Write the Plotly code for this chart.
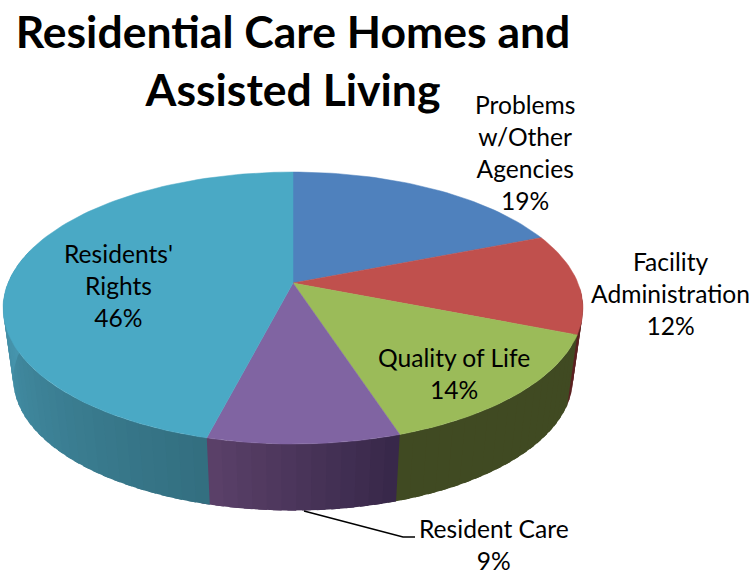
import math
import plotly.graph_objects as go

# Data
categories = ["Problems<br>w/Other<br>Agencies", "Facility<br>Administration", "Quality of Life", "Resident Care", "Residents'<br>Rights"]
values = [19, 12, 14, 9, 46]

# Styling
top_colors = ["#4f81bd", "#c0504d", "#9bbb59", "#8064a2", "#4aa9c5"]
side_start = ["#2c4a6e", "#6b2725", "#404a22", "#38284a", "#336f80"]
side_end = ["#2c4a6e", "#5a2020", "#404a22", "#5a4068", "#4a9cb6"]
label_pos = [(525, 152), (670, 293), (454, 373), (494, 544), (118, 285)]
leader_x = [304, 403, 415]
leader_y = [511, 537, 537]
TITLE = "Residential Care Homes and<br>Assisted Living"
FONT = "Lato"

# Perspective projection of the pie disc to the pixel-sized axes
P = 0.184
def project(theta, radius, a, b, cx, cy):
    X = radius * math.sin(theta)
    Y = -radius * math.cos(theta)
    w = 1 - P * Y
    return cx + a * X / w, cy + b * Y / w

def top(theta, radius=1.0):
    return project(theta, radius, 285, 131.4, 293, 283)

def bottom(theta):
    return project(theta, 1.0, 275, 127, 293, 355)

def hex2rgb(h):
    return [int(h[i:i + 2], 16) for i in (1, 3, 5)]

def mix(c1, c2, t):
    a, b = hex2rgb(c1), hex2rgb(c2)
    return "rgb({},{},{})".format(*[round(a[i] + (b[i] - a[i]) * t) for i in range(3)])

fig = go.Figure()
total = sum(values)
edges = [0]
for v in values:
    edges.append(edges[-1] + v / total * 2 * math.pi)

# Outer side wall (only the part facing the viewer); each band overlaps the next
VIS0, VIS1 = math.radians(92), math.radians(285)
STEP = math.radians(2.5)
for i in range(len(values)):
    t0, t1 = max(edges[i], VIS0), min(edges[i + 1], VIS1)
    if t1 <= t0:
        continue
    n = max(1, round((t1 - t0) / STEP))
    for k in range(n):
        a0 = t0 + (t1 - t0) * k / n
        a1 = min(t0 + (t1 - t0) * (k + 1.6) / n, VIS1)
        ths = [a0 + (a1 - a0) * j / 5 for j in range(6)]
        pts = [top(t) for t in ths] + [bottom(t) for t in reversed(ths)]
        pts.append(pts[0])
        col = mix(side_start[i], side_end[i], k / max(1, n - 1))
        fig.add_trace(go.Scatter(
            x=[p[0] for p in pts], y=[p[1] for p in pts], mode="lines",
            fill="toself", fillcolor=col, line=dict(width=0),
            hoverinfo="skip", showlegend=False))

# Top faces
for i in range(len(values)):
    n = max(8, int((edges[i + 1] - edges[i]) / math.radians(1.5)))
    pts = [top(0, 0)] + [top(edges[i] + (edges[i + 1] - edges[i]) * j / n) for j in range(n + 1)] + [top(0, 0)]
    fig.add_trace(go.Scatter(
        x=[p[0] for p in pts], y=[p[1] for p in pts], mode="lines",
        fill="toself", fillcolor=top_colors[i], line=dict(color=top_colors[i], width=0.5),
        name=categories[i].replace("<br>", " "),
        hovertemplate=f"{values[i]}%<extra></extra>", showlegend=False))

# Leader line
fig.add_trace(go.Scatter(x=leader_x, y=leader_y, mode="lines",
                         line=dict(color="black", width=1.5),
                         hoverinfo="skip", showlegend=False))

for name, v, (lx, ly) in zip(categories, values, label_pos):
    fig.add_annotation(x=lx, y=ly, text=f"{name}<br>{v}%", showarrow=False,
                       xanchor="center", yanchor="middle", align="center",
                       font=dict(family=FONT, size=24.6, color="black"))

fig.update_layout(
    title=dict(text=TITLE, x=293 / 755, xanchor="center", xref="paper",
               y=1 - 48 / 573, yanchor="middle", yref="container",
               font=dict(family=FONT, size=44.5, color="black", weight="bold")),
    width=755, height=573, margin=dict(l=0, r=0, t=0, b=0),
    paper_bgcolor="white", plot_bgcolor="white",
    xaxis=dict(range=[0, 755], visible=False, fixedrange=True),
    yaxis=dict(range=[573, 0], visible=False, fixedrange=True),
)
fig.write_html("out.html", config={"displayModeBar": False},
               post_script="document.body.style.margin='0';document.documentElement.style.overflow='hidden';")
